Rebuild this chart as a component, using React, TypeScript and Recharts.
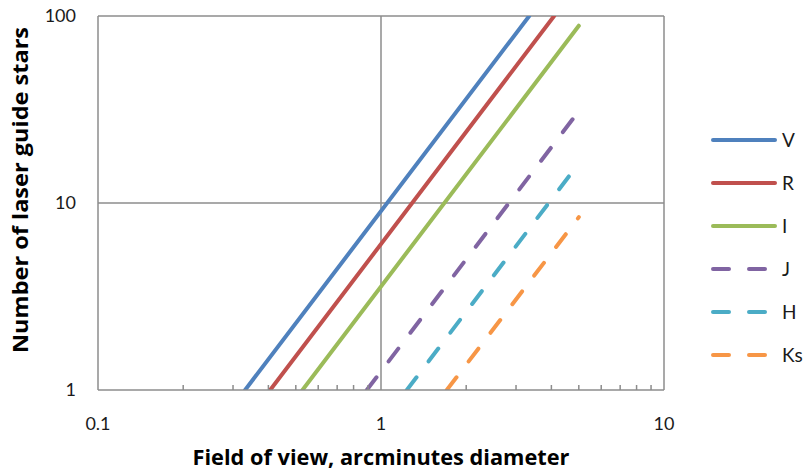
import { Line, LineChart, ReferenceLine, XAxis, YAxis } from "recharts";

// band names and the end points of each straight log-log line
const bands = ["V", "R", "I", "J", "H", "Ks"];
const fovStart = [0.331, 0.406, 0.528, 0.891, 1.234, 1.708];
const fovEnd = [3.34, 4.09, 5, 5, 5, 5];
const starsStart = [1, 1, 1, 1, 1, 1];
const starsEnd = [100, 100, 88.7, 31, 16.3, 8.4];

const xTicks = [0.1, 0.2, 0.3, 0.4, 0.5, 0.6, 0.7, 0.8, 0.9, 1, 2, 3, 4, 5, 6, 7, 8, 9, 10];
const xLabels = [0.1, 1, 10];
const yTicks = [1, 10, 100];

const colors = ["#4F81BD", "#C0504D", "#9BBB59", "#8064A2", "#4BACC6", "#F79646"];
const dashed = [false, false, false, true, true, true];

const series = bands.map((name, i) => ({
  name,
  color: colors[i],
  dashed: dashed[i],
  data: [
    { x: fovStart[i], y: starsStart[i] },
    { x: fovEnd[i], y: starsEnd[i] },
  ],
}));

const GRID = "#8c8c8c";
const FONT = "Lato, 'Open Sans', sans-serif";
const TITLE_FONT = "'Open Sans', Lato, sans-serif";

function XTick({ x, y, payload }: any) {
  const v = payload.value;
  if (xLabels.includes(v)) {
    return (
      <text x={x} y={y + 33} textAnchor="middle" dominantBaseline="central" fontSize={18} fill="#1a1a1a">
        {v}
      </text>
    );
  }
  return <line x1={x} x2={x} y1={y} y2={y - 5} stroke={GRID} strokeWidth={1.5} />;
}

function LegendBox() {
  return (
    <div style={{ position: "absolute", left: 711, top: 118, fontFamily: FONT }}>
      {series.map((s) => (
        <div key={s.name} style={{ display: "flex", alignItems: "center", height: 43 }}>
          <svg width={68} height={10}>
            <line
              x1={2}
              x2={64}
              y1={5}
              y2={5}
              stroke={s.color}
              strokeWidth={4}
              strokeLinecap="round"
              strokeDasharray={s.dashed ? "16 20" : undefined}
            />
          </svg>
          <span style={{ fontSize: 19, color: "#1a1a1a", marginLeft: 3 }}>{s.name}</span>
        </div>
      ))}
    </div>
  );
}

export default function App() {
  return (
    <div style={{ position: "absolute", left: 0, top: 0, width: 810, height: 472, background: "#fff", fontFamily: FONT }}>
      <LineChart width={810} height={472} margin={{ top: 16, right: 146, bottom: 0, left: 0 }}>
        <XAxis
          dataKey="x"
          type="number"
          scale="log"
          domain={[0.1, 10]}
          allowDataOverflow
          ticks={xTicks}
          interval={0}
          tickSize={0}
          tickMargin={0}
          tickLine={false}
          tick={<XTick />}
          axisLine={{ stroke: GRID, strokeWidth: 1.5 }}
          height={82}
          label={{
            value: "Field of view, arcminutes diameter",
            content: ({ viewBox }: any) => (
              <text
                x={viewBox.x + viewBox.width / 2}
                y={465}
                textAnchor="middle"
                fontSize={21}
                fontWeight={700}
                fontFamily={TITLE_FONT}
                textLength={377}
                lengthAdjust="spacingAndGlyphs"
                fill="#000"
              >
                Field of view, arcminutes diameter
              </text>
            ),
          }}
        />
        <YAxis
          type="number"
          scale="log"
          domain={[1, 100]}
          allowDataOverflow
          ticks={yTicks}
          interval={0}
          tickSize={0}
          tickMargin={22}
          tickLine={false}
          width={98}
          tick={{ fontSize: 18, fill: "#1a1a1a" }}
          axisLine={{ stroke: GRID, strokeWidth: 1.5 }}
          label={{
            value: "Number of laser guide stars",
            content: () => (
              <text
                x={28}
                y={190}
                transform="rotate(-90 28 190)"
                textAnchor="middle"
                fontSize={21}
                fontWeight={700}
                fontFamily={TITLE_FONT}
                textLength={326}
                lengthAdjust="spacingAndGlyphs"
                fill="#000"
              >
                Number of laser guide stars
              </text>
            ),
          }}
        />
        <ReferenceLine x={1} stroke={GRID} strokeWidth={1.5} />
        <ReferenceLine x={10} stroke={GRID} strokeWidth={1.5} />
        <ReferenceLine y={10} stroke={GRID} strokeWidth={1.5} />
        <ReferenceLine y={100} stroke={GRID} strokeWidth={1.5} />
        {series.map((s) => (
          <Line
            key={s.name}
            data={s.data}
            dataKey="y"
            name={s.name}
            stroke={s.color}
            strokeWidth={4}
            strokeLinecap="round"
            strokeDasharray={s.dashed ? "16 20" : undefined}
            dot={false}
            activeDot={false}
            isAnimationActive={false}
          />
        ))}
      </LineChart>
      <LegendBox />
    </div>
  );
}
